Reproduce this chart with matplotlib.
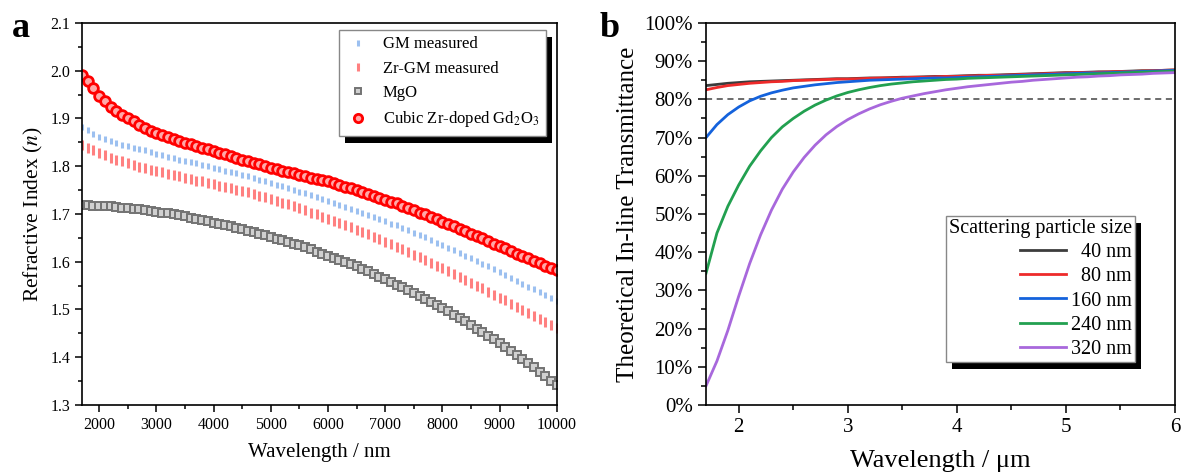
import matplotlib
matplotlib.use("Agg")
import matplotlib.pyplot as plt
from matplotlib.patches import Rectangle
from matplotlib.ticker import MultipleLocator, FuncFormatter

plt.rcParams['font.family'] = ['Liberation Serif', 'DejaVu Serif']
plt.rcParams['mathtext.fontset'] = 'stix'

# ---- panel a: refractive index, wavelength in nm (every 100 nm) ----
wl_nm = list(range(1700, 10001, 100))

n_cubic = [1.990, 1.978, 1.963, 1.948, 1.936, 1.925, 1.916, 1.908, 1.901, 1.894,
           1.887, 1.880, 1.874, 1.869, 1.865, 1.861, 1.857, 1.853, 1.849, 1.846,
           1.842, 1.839, 1.835, 1.832, 1.828, 1.825, 1.821, 1.818, 1.814, 1.811,
           1.807, 1.804, 1.800, 1.797, 1.794, 1.791, 1.788, 1.785, 1.782, 1.779,
           1.776, 1.773, 1.771, 1.768, 1.764, 1.761, 1.757, 1.754, 1.750, 1.746,
           1.742, 1.738, 1.734, 1.730, 1.726, 1.722, 1.717, 1.713, 1.708, 1.703,
           1.699, 1.694, 1.689, 1.684, 1.679, 1.674, 1.669, 1.664, 1.659, 1.654,
           1.649, 1.643, 1.638, 1.633, 1.628, 1.623, 1.617, 1.612, 1.607, 1.602,
           1.597, 1.592, 1.587, 1.582]

n_gm = [1.883, 1.875, 1.868, 1.862, 1.857, 1.853, 1.849, 1.845, 1.842, 1.839,
        1.836, 1.833, 1.829, 1.826, 1.823, 1.820, 1.817, 1.814, 1.811, 1.808,
        1.806, 1.803, 1.800, 1.797, 1.794, 1.791, 1.788, 1.785, 1.782, 1.779,
        1.775, 1.772, 1.769, 1.765, 1.761, 1.758, 1.754, 1.751, 1.747, 1.743,
        1.739, 1.735, 1.731, 1.727, 1.723, 1.719, 1.715, 1.711, 1.707, 1.703,
        1.698, 1.694, 1.690, 1.685, 1.680, 1.676, 1.671, 1.666, 1.661, 1.656,
        1.651, 1.646, 1.640, 1.635, 1.629, 1.624, 1.618, 1.613, 1.607, 1.601,
        1.595, 1.590, 1.584, 1.578, 1.572, 1.566, 1.560, 1.554, 1.548, 1.542,
        1.536, 1.530, 1.524, 1.518]

n_zrgm = [1.845, 1.839, 1.833, 1.828, 1.823, 1.818, 1.814, 1.810, 1.806, 1.803,
          1.799, 1.796, 1.793, 1.790, 1.787, 1.784, 1.782, 1.779, 1.776, 1.773,
          1.770, 1.768, 1.765, 1.762, 1.759, 1.756, 1.754, 1.751, 1.748, 1.745,
          1.742, 1.738, 1.735, 1.732, 1.728, 1.724, 1.720, 1.716, 1.712, 1.708,
          1.703, 1.699, 1.694, 1.690, 1.685, 1.681, 1.676, 1.672, 1.667, 1.662,
          1.657, 1.652, 1.647, 1.642, 1.637, 1.631, 1.626, 1.620, 1.615, 1.609,
          1.603, 1.598, 1.592, 1.586, 1.580, 1.574, 1.568, 1.562, 1.556, 1.550,
          1.544, 1.537, 1.531, 1.525, 1.519, 1.512, 1.506, 1.499, 1.493, 1.487,
          1.480, 1.474, 1.467, 1.461]

n_mgo = [1.718, 1.718, 1.717, 1.717, 1.716, 1.716, 1.715, 1.713, 1.712, 1.711,
         1.710, 1.708, 1.707, 1.705, 1.703, 1.701, 1.699, 1.697, 1.695, 1.692,
         1.690, 1.687, 1.685, 1.682, 1.679, 1.676, 1.674, 1.671, 1.668, 1.665,
         1.662, 1.659, 1.655, 1.652, 1.648, 1.645, 1.641, 1.638, 1.634, 1.630,
         1.626, 1.621, 1.617, 1.613, 1.608, 1.604, 1.599, 1.595, 1.590, 1.585,
         1.580, 1.574, 1.569, 1.564, 1.558, 1.552, 1.547, 1.541, 1.535, 1.529,
         1.522, 1.516, 1.509, 1.503, 1.496, 1.489, 1.482, 1.475, 1.468, 1.460,
         1.453, 1.445, 1.438, 1.430, 1.422, 1.413, 1.405, 1.396, 1.388, 1.379,
         1.370, 1.361, 1.351, 1.342]

# ---- panel b: theoretical in-line transmittance (%), wavelength in um ----
wl_um = [1.7 + 0.1 * i for i in range(44)]

t_40 = [83.6, 83.9, 84.2, 84.4, 84.6, 84.7, 84.8, 84.9, 85.0, 85.1,
        85.2, 85.3, 85.4, 85.4, 85.5, 85.6, 85.6, 85.7, 85.8, 85.8,
        85.9, 86.0, 86.0, 86.1, 86.2, 86.3, 86.3, 86.4, 86.5, 86.6,
        86.7, 86.8, 86.9, 87.0, 87.0, 87.1, 87.2, 87.2, 87.3, 87.4,
        87.5, 87.5, 87.6, 87.7]
t_80 = [82.5, 83.1, 83.6, 83.9, 84.2, 84.4, 84.6, 84.7, 84.9, 85.0,
        85.1, 85.2, 85.3, 85.3, 85.4, 85.5, 85.6, 85.6, 85.7, 85.8,
        85.8, 85.9, 86.0, 86.0, 86.1, 86.2, 86.3, 86.3, 86.4, 86.5,
        86.6, 86.7, 86.8, 86.9, 87.0, 87.0, 87.1, 87.2, 87.3, 87.3,
        87.4, 87.5, 87.6, 87.7]
t_160 = [70.0, 73.4, 76.0, 78.0, 79.6, 80.8, 81.7, 82.4, 83.0, 83.4,
         83.8, 84.1, 84.4, 84.6, 84.8, 85.0, 85.1, 85.2, 85.3, 85.4,
         85.5, 85.6, 85.6, 85.7, 85.8, 85.9, 86.0, 86.1, 86.2, 86.3,
         86.4, 86.5, 86.6, 86.7, 86.8, 86.9, 86.9, 87.0, 87.1, 87.2,
         87.3, 87.4, 87.5, 87.6]
t_240 = [34.5, 45.0, 52.0, 57.6, 62.5, 66.5, 70.0, 72.8, 75.0, 76.9,
         78.5, 79.8, 80.9, 81.8, 82.5, 83.1, 83.6, 84.0, 84.3, 84.6,
         84.8, 85.0, 85.2, 85.3, 85.5, 85.6, 85.7, 85.8, 85.9, 86.0,
         86.1, 86.2, 86.3, 86.4, 86.5, 86.6, 86.7, 86.8, 86.9, 87.0,
         87.1, 87.2, 87.3, 87.4]
t_320 = [5.0, 11.5, 19.5, 28.5, 37.0, 44.5, 51.0, 56.5, 61.0, 64.8,
         68.0, 70.7, 72.9, 74.7, 76.2, 77.5, 78.6, 79.5, 80.3, 80.9,
         81.5, 82.0, 82.5, 82.9, 83.3, 83.6, 83.9, 84.2, 84.5, 84.7,
         85.0, 85.2, 85.4, 85.6, 85.8, 85.9, 86.1, 86.2, 86.4, 86.5,
         86.6, 86.8, 86.9, 87.0]

sizes = ['  40 nm', '  80 nm', '160 nm', '240 nm', '320 nm']
colors = ['#3c3c3c', '#ee2a2a', '#1462dc', '#22a050', '#a868dc']


def add_shadow(ax, leg, dx=6, dy=7):
    """Draws a solid black drop shadow behind a legend box."""
    fig = ax.figure
    fig.canvas.draw()
    bb = leg.get_frame().get_window_extent(fig.canvas.get_renderer())
    inv = ax.transAxes.inverted()
    (x0, y0), (x1, y1) = inv.transform([(bb.x0 + dx, bb.y0 - dy), (bb.x1 + dx, bb.y1 - dy)])
    ax.add_patch(Rectangle((x0, y0), x1 - x0, y1 - y0, transform=ax.transAxes,
                           facecolor='black', edgecolor='none', zorder=4.5, clip_on=False))


fig = plt.figure(figsize=(11.87, 4.74), dpi=100)
ax1 = fig.add_axes([0.0691, 0.1456, 0.400, 0.806])
ax2 = fig.add_axes([0.5948, 0.1456, 0.3950, 0.806])

# panel a
ax1.plot(wl_nm, n_gm, ls='none', marker='|', ms=4.5, mew=2.2, color='#9cc0f0', label='GM measured')
ax1.plot(wl_nm, n_zrgm, ls='none', marker='|', ms=6.5, mew=2.2, color='#ff8080', label='Zr-GM measured')
ax1.plot(wl_nm, n_mgo, ls='none', marker='s', ms=5.6, mew=1.4, mfc='#d0d0d0', mec='#737373', label='MgO')
ax1.plot(wl_nm, n_cubic, ls='none', marker='o', ms=7, mew=2.0, mfc='#ffa8a8', mec='#ff0000',
         label='Cubic Zr-doped Gd$_2$O$_3$')

ax1.set_xlim(1700, 10000)
ax1.set_ylim(1.3, 2.1)
ax1.xaxis.set_major_locator(MultipleLocator(1000))
ax1.xaxis.set_minor_locator(MultipleLocator(500))
ax1.yaxis.set_major_locator(MultipleLocator(0.1))
ax1.yaxis.set_minor_locator(MultipleLocator(0.05))
ax1.tick_params(which='both', direction='out', top=False, right=False, labelsize=11.5, width=1.1)
ax1.tick_params(which='major', length=5)
ax1.tick_params(which='minor', length=3)
ax1.set_xlabel('Wavelength / nm', fontsize=15, labelpad=7)
ax1.set_ylabel('Refractive Index ($n$)', fontsize=15.5)
for s in ax1.spines.values():
    s.set_linewidth(1.2)

leg1 = ax1.legend(loc='upper right', bbox_to_anchor=(0.977, 0.982), borderaxespad=0,
                  fancybox=False, framealpha=1, edgecolor='#888888', fontsize=12,
                  numpoints=1, handlelength=1.4, handletextpad=0.8, labelspacing=0.5,
                  borderpad=0.4, markerscale=0.85)
leg1.set_zorder(5)
add_shadow(ax1, leg1)

# panel b
for vals, lab, c in zip([t_40, t_80, t_160, t_240, t_320], sizes, colors):
    ax2.plot(wl_um, vals, color=c, lw=2.0, label=lab)
ax2.axhline(80, color='#444444', ls=(0, (4, 3)), lw=1.1, zorder=1)

ax2.set_xlim(1.7, 6)
ax2.set_ylim(0, 100)
ax2.xaxis.set_major_locator(MultipleLocator(1))
ax2.xaxis.set_minor_locator(MultipleLocator(0.5))
ax2.yaxis.set_major_locator(MultipleLocator(10))
ax2.yaxis.set_minor_locator(MultipleLocator(5))
ax2.yaxis.set_major_formatter(FuncFormatter(lambda v, p: '%d%%' % v))
ax2.tick_params(which='both', direction='out', top=False, right=False, labelsize=15, width=1.1)
ax2.tick_params(which='major', length=6)
ax2.tick_params(which='minor', length=3.5)
ax2.set_xlabel('Wavelength / μm', fontsize=19, labelpad=9)
ax2.set_ylabel('Theoretical In-line Transmittance', fontsize=18)
for s in ax2.spines.values():
    s.set_linewidth(1.2)

leg2 = ax2.legend(loc='lower right', bbox_to_anchor=(0.915, 0.113), borderaxespad=0,
                  title='Scattering particle size', title_fontsize=14.5, fontsize=14.5,
                  fancybox=False, framealpha=1, edgecolor='#888888', handlelength=2.3,
                  handletextpad=0.25, labelspacing=0.25, borderpad=0.15)
leg2._legend_box.align = 'right'
leg2.set_zorder(5)
add_shadow(ax2, leg2)

fig.text(0.010, 0.975, 'a', fontsize=26, fontweight='bold', va='top')
fig.text(0.505, 0.975, 'b', fontsize=26, fontweight='bold', va='top')

fig.savefig('out.png', dpi=100)
